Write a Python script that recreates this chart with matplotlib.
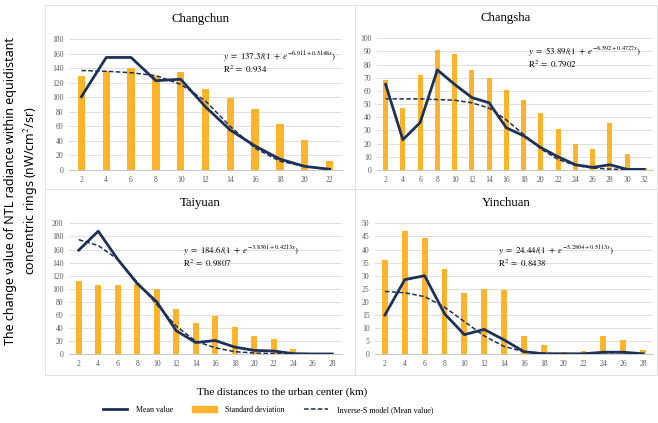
import matplotlib
matplotlib.use("Agg")
import matplotlib.pyplot as plt
from matplotlib.lines import Line2D
from matplotlib.patches import Patch, Rectangle

plt.rcParams['font.family'] = ['Liberation Serif', 'DejaVu Serif']
plt.rcParams['mathtext.fontset'] = 'stix'

BAR = '#FDB32B'
LINE = '#1E3158'
GRID = '#D9D9D9'
TXT = '#595959'

# Changchun
cc_x = [2, 4, 6, 8, 10, 12, 14, 16, 18, 20, 22]
cc_std = [130, 136, 140, 130, 135, 112, 99, 84, 64, 42, 13]
cc_mean = [101, 155, 155, 123, 125, 87, 55, 33, 15, 5, 1]
cc_fit = [137, 136, 134, 130, 118, 95, 60, 30, 12, 5, 1.5]

# Changsha
cs_x = [2, 4, 6, 8, 10, 12, 14, 16, 18, 20, 22, 24, 26, 28, 30, 32]
cs_std = [68, 47, 72, 91, 88, 76, 70, 61, 53, 43, 31, 20, 16, 36, 12, 1.5]
cs_mean = [65, 23, 36, 76, 65, 55, 51, 32, 26, 17, 10, 4, 2, 4, 0.5, 0.5]
cs_fit = [54, 54, 54, 53.5, 53, 51, 47, 38, 27, 16, 8, 3.5, 1.5, 0.7, 0.3, 0.1]

# Taiyuan
ty_x = [2, 4, 6, 8, 10, 12, 14, 16, 18, 20, 22, 24, 26, 28]
ty_std = [112, 106, 106, 107, 100, 69, 48, 59, 41, 28, 23, 8, 0, 0]
ty_mean = [159, 188, 145, 108, 80, 36, 18, 21, 11, 6, 5, 1, 0.5, 0.5]
ty_fit = [175, 166, 145, 110, 76, 43, 20, 10, 4, 2, 1, 0.3, 0.1, 0]

# Yinchuan
yc_x = [2, 4, 6, 8, 10, 12, 14, 16, 18, 20, 22, 24, 26, 28]
yc_std = [36, 47, 44.5, 32.5, 23.5, 25, 24.5, 7, 3.5, 1, 1.2, 7, 5.3, 1.5]
yc_mean = [15, 28.5, 30, 15.5, 7.5, 9.5, 5.5, 1, 0.2, 0.2, 0.2, 0.8, 0.8, 0.2]
yc_fit = [24, 23.5, 22, 18, 12.5, 7, 3, 1, 0.4, 0.2, 0.1, 0, 0, 0]

W, H = 658, 423
fig = plt.figure(figsize=(W / 100, H / 100), dpi=100)


def px(x0, y0, x1, y1):
    return [x0 / W, 1 - y1 / H, (x1 - x0) / W, (y1 - y0) / H]


# panel frames
for (a, b, c, d) in [(45, 5, 355, 189), (355, 5, 657, 189), (45, 189, 355, 375), (355, 189, 657, 375)]:
    fig.patches.append(Rectangle((a / W, 1 - d / H), (c - a) / W, (d - b) / H,
                                 transform=fig.transFigure, fill=False, ec='#E3E3E3', lw=0.8))

panels = [
    ("Changchun", cc_x, cc_std, cc_mean, cc_fit, 180, 20, px(69, 39.3, 342, 170),
     r"$y\ =\ 137.3/(1\ +\ e^{-6.911+0.5148x})$" + "\n" + r"$\mathrm{R}^2\ =\ 0.934$", (223, 62)),
    ("Changsha", cs_x, cs_std, cs_mean, cs_fit, 100, 10, px(377, 38.3, 653, 170),
     r"$y\ =\ 53.89/(1\ +\ e^{-8.592+0.4727x})$" + "\n" + r"$\mathrm{R}^2\ =\ 0.7902$", (528, 57.5)),
    ("Taiyuan", ty_x, ty_std, ty_mean, ty_fit, 200, 20, px(69, 223.3, 342, 354.3),
     r"$y\ =\ 184.6/(1\ +\ e^{-3.8361+0.4213x})$" + "\n" + r"$\mathrm{R}^2\ =\ 0.9807$", (183, 256.5)),
    ("Yinchuan", yc_x, yc_std, yc_mean, yc_fit, 50, 5, px(375, 223.3, 653, 354.3),
     r"$y\ =\ 24.44/(1\ +\ e^{-5.2864+0.5113x})$" + "\n" + r"$\mathrm{R}^2\ =\ 0.8438$", (498, 256)),
]

for name, x, std, mean, fit, ymax, step, rect, eq, (ex, ey) in panels:
    ax = fig.add_axes(rect)
    ax.bar(x, std, width=0.6, color=BAR, zorder=2)
    ax.plot(x, mean, color=LINE, lw=2.0, zorder=3)
    ax.plot(x, fit, color=LINE, lw=1.1, ls=(0, (3, 1.5)), zorder=4)
    ax.set_xlim(x[0] - 1, x[-1] + 1)
    ax.set_ylim(0, ymax)
    ax.set_xticks(x)
    ax.set_yticks(range(0, ymax + 1, step))
    ax.tick_params(length=0, labelsize=5.5, colors=TXT, pad=4)
    ax.grid(axis='y', color=GRID, lw=0.6, zorder=0)
    for s in ['top', 'right', 'left']:
        ax.spines[s].set_visible(False)
    ax.spines['bottom'].set_color('#BFBFBF')
    ax.spines['bottom'].set_linewidth(0.6)
    ax.set_facecolor('none')
    # panel titles
    fig.text((45 + 355) / 2 / W if rect[0] < 0.3 else (355 + 657) / 2 / W,
             rect[1] + rect[3] + 20 / H, name, ha='center', va='center', fontsize=9.2)
    fig.text(ex / W, 1 - ey / H, eq, fontsize=6.4, va='center', ha='left',
             linespacing=0.95)

fig.text(22 / W, 1 - 191 / H,
         "The change value of NTL radiance within equidistant\nconcentric rings (nW/cm$^2$/sr)",
         rotation=90, ha='center', va='center', fontsize=9, family='Noto Sans',
         multialignment='center', linespacing=1.3)

fig.text(282 / W, 1 - 392 / H, "The distances to the urban center (km)",
         ha='center', va='center', fontsize=8)

handles = [Line2D([], [], color=LINE, lw=2.0),
           Patch(color=BAR),
           Line2D([], [], color=LINE, lw=1.1, ls=(0, (3, 1.5)))]
labels = ["Mean value", "Standard deviation", "Inverse-S model (Mean value)"]
fig.legend(handles, labels, loc='center', bbox_to_anchor=(268 / W, 1 - 410 / H), ncol=3,
           frameon=False, fontsize=5.7, handlelength=3.1, handleheight=0.7,
           columnspacing=2.4, handletextpad=1.1)

fig.savefig("out.png", dpi=100)
